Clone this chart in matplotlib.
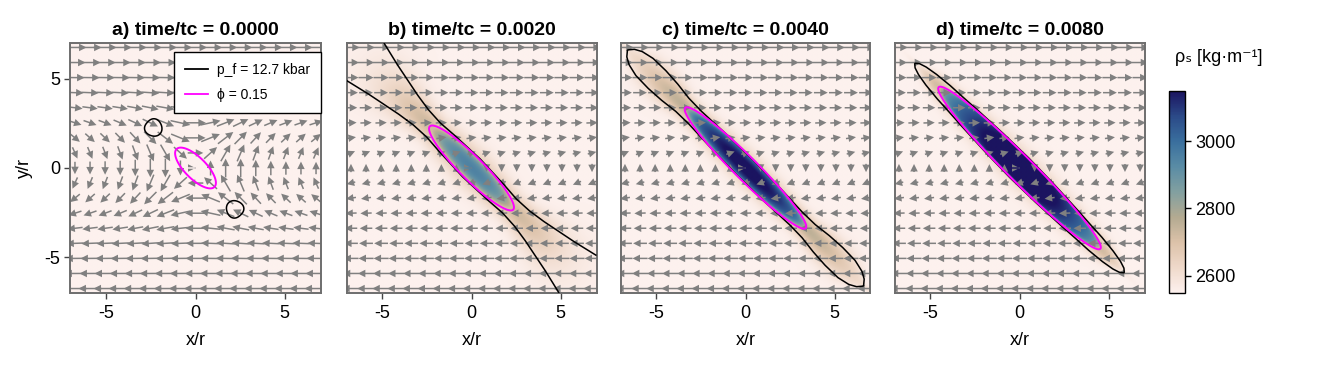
import numpy as np
import matplotlib
matplotlib.use('Agg')
import matplotlib.pyplot as plt
from matplotlib.colors import LinearSegmentedColormap
from matplotlib.lines import Line2D

plt.rcParams['font.family'] = ['Liberation Sans', 'DejaVu Sans']
plt.rcParams['axes.unicode_minus'] = False

W, H = 1336, 367

# ---------------- data ----------------
titles = ['a) time/tc = 0.0000', 'b) time/tc = 0.0020',
          'c) time/tc = 0.0040', 'd) time/tc = 0.0080']
ticks = [-5, 0, 5]
cbar_ticks = [2600, 2800, 3000]
rho_min, rho_max = 2548, 3150
rho_bg = 2550

# porosity contour (phi = 0.15): ellipse semi-axes along / across the NW-SE diagonal
phi_a = [1.5, 3.3, 4.77, 6.4]
phi_b = [0.6, 0.65, 0.64, 0.72]

# solid density inside the inclusion
rho_peak = [2550, 2950, 3180, 3220]
rho_cs = [0.0, 0.35, 0.40, 0.55]
rho_ct = [0.0, 0.30, 0.30, 0.10]
rho_edge = [0.10, 0.12, 0.06, 0.03]
# tan halo along the diagonal
halo_amp = [0, 175, 205, 170]
halo_len = [1.0, 3.5, 4.0, 1.5]
halo_wid = [1.0, 1.4, 1.2, 1.1]

# fluid-pressure contour (p_f = 12.7 kbar): half-width across the diagonal vs |s|
pf_s = [None,
        [0, 2, 3, 4, 5, 6, 7, 8.4, 11],
        [0, 2, 4, 5, 6, 7, 8, 8.7, 9.1, 9.35, 9.6],
        [0, 2, 4, 5, 6, 7, 7.7, 8.1, 8.3, 8.5]]
pf_w = [None,
        [0.7, 0.62, 0.55, 0.6, 0.75, 0.95, 1.15, 1.48, 1.95],
        [0.62, 0.58, 0.5, 0.52, 0.64, 0.7, 0.68, 0.52, 0.3, 0.0, -0.25],
        [0.76, 0.72, 0.63, 0.57, 0.52, 0.42, 0.3, 0.17, 0.0, -0.2]]
# panel a: two small pressure loops (teardrops pointing to the centre)
pf_loop_x = [-2.4, 2.25]
pf_loop_y = [2.3, -2.35]
pf_loop_r = [0.48, 0.48]

# velocity field: simple shear + perturbations
vel_gamma = [1.0, 1.0, 1.0, 1.0]
vel_p0 = [3.5, 0.0, 0.0, 0.0]     # local pure shear around weak inclusion (panel a)
vel_c = [0.7, 0.0, 0.0, 0.0]      # far-field vertical component (panel a)
vel_k1 = [0.0, 0.45, 0.45, 0.40]
vel_k2 = [0.0, 0.08, 0.08, 0.06]
arrow_k = [0.13, 0.084, 0.084, 0.084]   # arrow length per unit velocity
arrow_head = 0.42                        # head length (data units)

# lapaz-like reversed colormap
cmap_colors = ['#fdf1ee', '#efd9ca', '#dcc2a9', '#b3aa91', '#82a0a0',
               '#5a8ca5', '#3a6f9e', '#2b4a88', '#1b1460']
cmap = LinearSegmentedColormap.from_list('lapaz_r', cmap_colors)

# ---------------- figure ----------------
fig = plt.figure(figsize=(W / 100, H / 100), dpi=100)
ax_left = [70, 346, 620, 894]
ax_w = 251
ax_top, ax_bot = 43, 293

n = 400
g = np.linspace(-7, 7, n)
X, Y = np.meshgrid(g, g)
S = (X - Y) / np.sqrt(2)
T = (X + Y) / np.sqrt(2)

qg = np.linspace(-6.75, 6.75, 17)
QX, QY = np.meshgrid(qg, qg)

axes = []
for i in range(4):
    ax = fig.add_axes([ax_left[i] / W, (H - ax_bot) / H, ax_w / W, (ax_bot - ax_top) / H])
    axes.append(ax)
    a, b = phi_a[i], phi_b[i]
    q = (S / a) ** 2 + (T / b) ** 2
    # density
    inside = 1.0 / (1.0 + np.exp((np.sqrt(q) - 1.0) / rho_edge[i]))
    prof = np.clip(1 - rho_cs[i] * (S / a) ** 2 - rho_ct[i] * np.clip(T / b, -1, 1) ** 2, 0, None)
    rin = (rho_peak[i] - rho_bg) * prof * inside
    if pf_s[i] is not None:
        wv = np.interp(np.abs(S), pf_s[i], pf_w[i])
        ww = np.maximum(wv, 0.12)
        gs = np.where(np.abs(S) < a, 1.0, np.exp(-((np.abs(S) - a) / halo_len[i]) ** 2))
        halo = halo_amp[i] * np.exp(-(T / (halo_wid[i] * ww)) ** 2) * gs
        pf_field = np.abs(T) - wv
    else:
        halo = np.zeros_like(S)
        ds = []
        for x0, y0, r0 in zip(pf_loop_x, pf_loop_y, pf_loop_r):
            th = np.arctan2(Y - y0, X - x0)
            thp = np.arctan2(-y0, -x0)
            rr = r0 * (1 + 0.18 * np.cos(th - thp) ** 3)
            ds.append(np.hypot(X - x0, Y - y0) / rr)
        pf_field = np.min(ds, axis=0) - 1.0
    rho = rho_bg + np.maximum(rin, halo)
    im = ax.imshow(rho, extent=(-7, 7, -7, 7), origin='lower', cmap=cmap,
                   vmin=rho_min, vmax=rho_max, interpolation='bilinear', zorder=0)

    # velocity
    R2 = QX ** 2 + QY ** 2
    P = vel_p0[i] * np.exp(-R2 / 2.5 ** 2)
    U = vel_gamma[i] * QY + P * QY
    V = (P * QX
         + vel_c[i] * QX * np.exp(-(QY / 2.6) ** 2) * np.exp(-(QX / 7.5) ** 2)
         + vel_k1[i] * QY * np.exp(-(QY / 1.6) ** 2)
         - vel_k2[i] * QX * np.exp(-(QY / 0.6) ** 2))
    mag = np.hypot(U, V)
    mag_safe = np.where(mag > 0, mag, 1.0)
    L = arrow_head + arrow_k[i] * mag
    Ud = np.where(mag > 0, U / mag_safe * L, 0.0)
    Vd = np.where(mag > 0, V / mag_safe * L, 0.0)
    ax.quiver(QX, QY, Ud, Vd, angles='xy', scale_units='xy', scale=1.0,
              units='dots', width=1.5, headwidth=5, headlength=5,
              headaxislength=5, minshaft=0, minlength=0, pivot='mid',
              color='#808080', zorder=2)

    ax.contour(X, Y, pf_field, levels=[0], colors='black', linewidths=1.1, zorder=3)
    ax.contour(X, Y, q, levels=[1], colors='#ff00ff', linewidths=1.4, zorder=4)

    ax.set_xlim(-7, 7)
    ax.set_ylim(-7, 7)
    ax.set_xticks(ticks)
    ax.set_xticklabels([str(t) for t in ticks])
    ax.set_yticks(ticks)
    if i == 0:
        ax.set_yticklabels([str(t) for t in ticks])
        ax.set_ylabel('y/r', fontsize=13, labelpad=8)
        ax.tick_params(axis='y', length=4, width=1, color='#444444', labelsize=13)
    else:
        ax.tick_params(axis='y', left=False, labelleft=False)
    ax.tick_params(axis='x', length=4, width=1, color='#444444', labelsize=13, pad=5)
    ax.set_xlabel('x/r', fontsize=13, labelpad=7)
    ax.set_title(titles[i], fontsize=14, fontweight='bold', pad=6)
    for sp in ax.spines.values():
        sp.set_color('#6e6e6e')
        sp.set_linewidth(1.4)

# legend in panel a
handles = [Line2D([], [], color='black', lw=1.3),
           Line2D([], [], color='#ff00ff', lw=1.3)]
leg = axes[0].legend(handles, ['p_f = 12.7 kbar', '\u03d5 = 0.15'],
                     loc='upper left', bbox_to_anchor=(0.385, 0.992),
                     fontsize=10, frameon=True, fancybox=False, framealpha=1,
                     edgecolor='black', handlelength=1.7, borderpad=0.8,
                     labelspacing=0.8, handletextpad=0.6)
leg.get_frame().set_linewidth(1.0)
leg.set_zorder(10)

# colorbar
cax = fig.add_axes([1169 / W, (H - 293) / H, 16 / W, (293 - 91) / H])
cb = fig.colorbar(im, cax=cax)
cb.set_ticks(cbar_ticks)
cb.set_ticklabels([str(t) for t in cbar_ticks])
cax.tick_params(length=4, width=1, labelsize=13, direction='out')
cb.outline.set_linewidth(1.0)
fig.text(1219 / W, 1 - 58 / H, '\u03c1\u209b [kg\u00b7m\u207b\u00b9]', ha='center', va='center', fontsize=13)

fig.savefig('out.png', dpi=100)
